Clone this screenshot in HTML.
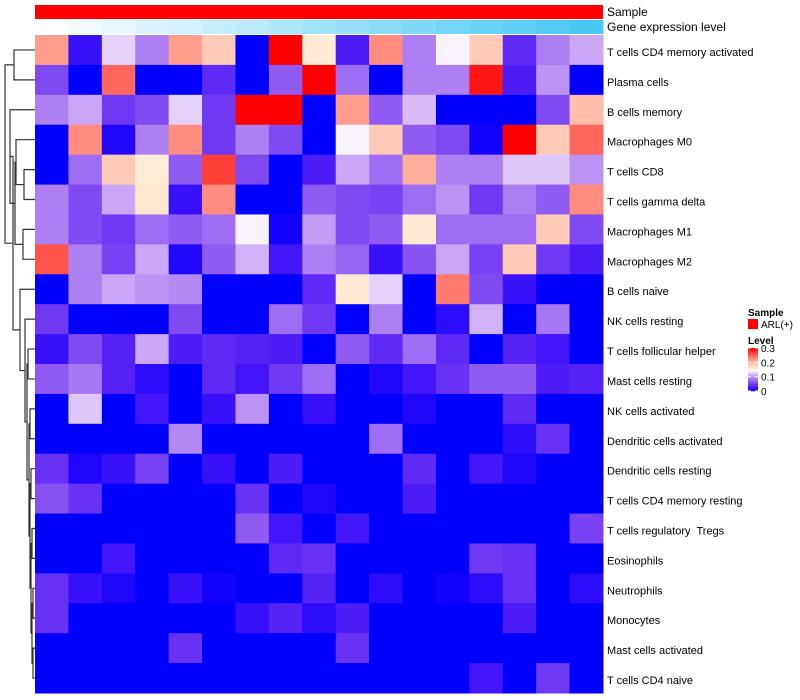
<!DOCTYPE html>
<html><head><meta charset="utf-8"><style>
body{margin:0;background:#fff;}
svg{display:block;font-family:"Liberation Sans",sans-serif;}
text{white-space:pre;}
</style></head><body>
<svg id="chart" width="800" height="700"></svg>
<script>
const rowLabels=["T cells CD4 memory activated","Plasma cells","B cells memory","Macrophages M0","T cells CD8","T cells gamma delta","Macrophages M1","Macrophages M2","B cells naive","NK cells resting","T cells follicular helper","Mast cells resting","NK cells activated","Dendritic cells activated","Dendritic cells resting","T cells CD4 memory resting","T cells regulatory  Tregs","Eosinophils","Neutrophils","Monocytes","Mast cells activated","T cells CD4 naive"];
const r1=[.22,.02,.13,.09,.22,.19,0,.3,.16,.03,.23,.09,.145,.19,.04,.09,.11];
const r2=[.06,0,.25,0,0,.04,0,.07,.3,.08,0,.09,.09,.29,.03,.1,0];
const r3=[.09,.11,.05,.06,.13,.05,.3,.3,0,.22,.07,.12,0,0,0,.06,.2];
const r4=[0,.23,.01,.09,.23,.05,.09,.06,0,.145,.19,.07,.06,.005,.3,.19,.25];
const r5=[0,.08,.19,.155,.07,.27,.06,0,.03,.11,.08,.21,.09,.09,.125,.125,.1];
const r6=[.09,.06,.11,.165,.02,.23,0,0,.07,.06,.055,.08,.1,.05,.09,.07,.23];
const r7=[.09,.06,.05,.08,.07,.08,.145,.005,.105,.06,.07,.16,.08,.08,.08,.19,.06];
const r8=[.26,.09,.055,.11,.01,.07,.115,.025,.09,.075,.02,.065,.11,.055,.19,.05,.03];
const r9=[0,.09,.11,.1,.095,0,0,0,.04,.16,.13,0,.24,.06,.02,0,0];
const r10=[.05,0,0,0,.06,0,0,.08,.05,0,.09,0,.015,.115,0,.085,0];
const r11=[.02,.06,.035,.11,.03,.04,.035,.03,0,.07,.04,.08,.04,0,.035,.025,0];
const r12=[.07,.085,.035,.015,0,.04,.025,.05,.08,0,.01,.025,.045,.07,.07,.03,.035];
const r13=[0,.125,0,.025,0,.02,.1,0,.02,0,0,.01,0,0,.04,0,0];
const r14=[0,0,0,0,.095,0,0,0,0,0,.08,0,0,0,.015,.045,0];
const r15=[.045,.01,.02,.055,0,.02,0,.03,0,0,0,.04,0,.025,.01,0,0];
const r16=[.065,.045,0,0,0,0,.045,0,.01,0,0,.03,0,0,0,0,0];
const r17=[0,0,0,0,0,0,.07,.025,0,.025,0,0,0,0,0,0,.055];
const r18=[0,0,.025,0,0,0,0,.04,.045,0,0,0,0,.05,.045,0,0];
const r19=[.045,.02,.01,0,.02,.005,0,0,.035,0,.015,0,.005,.015,.045,0,.015];
const r20=[.045,0,0,0,0,0,.02,.035,.015,.03,0,0,0,0,.03,0,0];
const r21=[0,0,0,0,.045,0,0,0,0,.045,0,0,0,0,0,0,0];
const r22=[0,0,0,0,0,0,0,0,0,0,0,0,0,.025,0,.05,0];
const values=[r1,r2,r3,r4,r5,r6,r7,r8,r9,r10,r11,r12,r13,r14,r15,r16,r17,r18,r19,r20,r21,r22];
const legendTicks=["0.3","0.2","0.1","0"];
const legendTickValues=[0.3,0.2,0.1,0];

const NS="http://www.w3.org/2000/svg";
const svg=document.getElementById('chart');
function mk(t,a,p){const e=document.createElementNS(NS,t);for(const k in a)e.setAttribute(k,a[k]);(p||svg).appendChild(e);return e;}
const X0=35,X1=603,Y0=35,Y1=693;
const nC=r1.length,nR=values.length;
const cw=(X1-X0)/nC,rh=(Y1-Y0)/nR;
const xS=c=>X0+c*cw, yS=r=>Y0+r*rh;
function color(v){
  v=Math.max(0,Math.min(0.3,v));
  if(v<=0.15){const t=v/0.15;
    const r=255*Math.pow(t,0.75),g=255*Math.pow(t,1.35),b=255-12*Math.sin(Math.PI*t);
    return `rgb(${r|0},${g|0},${b|0})`;}
  const s=(v-0.15)/0.15;
  const gb=240*(1-Math.pow(s,1.4));
  return `rgb(255,${gb|0},${(gb*0.9)|0})`;
}
const sampleG=mk('g',{});


mk('rect',{x:X0,y:5,width:X1-X0,height:14,fill:'#ff0000'},sampleG);
const geneG=mk('g',{});


for(let c=0;c<nC;c++){
  const t=c/(nC-1);
  const r=255-(255-72)*t,g=255-(255-200)*t,b=255-(255-245)*t;
  const e=mk('rect',{x:xS(c),y:20,width:cw+0.5,height:14,fill:`rgb(${r|0},${g|0},${b|0})`},geneG);
  
  
}
const t1=mk('text',{x:607,y:16,'font-size':12,fill:'#000'});t1.textContent='Sample';


const t2=mk('text',{x:607,y:31,'font-size':12,fill:'#000'});t2.textContent='Gene expression level';


const cellsG=mk('g',{});


values.forEach((row,r)=>row.forEach((v,c)=>{
  const e=mk('rect',{x:xS(c),y:yS(r),width:cw+0.5,height:rh+0.5,fill:color(v)},cellsG);
  
  
}));
rowLabels.forEach((l,r)=>{
  const e=mk('text',{x:607,y:yS(r)+rh/2+6,'font-size':11,fill:'#000'});
  e.textContent=l;
  
  
});
const merges=[[0,1,14],[4,5,24],[3,'n1',16],[6,7,23],['n2','n3',15],[2,'n4',10],
 [20,21,33],[18,19,33],['n6','n7',32],[16,17,32],['n9','n8',31],[14,15,31],['n11','n10',30],
 [12,13,30],['n13','n12',29],[10,11,28],['n15','n14',27],[9,'n16',25],[8,'n17',20],
 ['n5','n18',13],['n0','n19',5]];
const dG=mk('g',{stroke:'#333','stroke-width':1.2,fill:'none'});


const nodes=[];
function info(ch){if(typeof ch==='number')return{y:yS(ch)+rh/2,x:X0};return nodes[+ch.slice(1)];}
merges.forEach(m=>{
  const a=info(m[0]),b=info(m[1]),x=m[2];
  mk('path',{d:`M${a.x},${a.y}H${x}V${b.y}H${b.x}`},dG);
  nodes.push({x:x,y:(a.y+b.y)/2});
});
const lg=mk('g',{});


const lt=mk('text',{x:748,y:316,'font-size':10,'font-weight':'bold'},lg);lt.textContent='Sample';
const lr=mk('rect',{x:748,y:319,width:10,height:10,fill:'#ff0000'},lg);


const la=mk('text',{x:761,y:328,'font-size':10},lg);la.textContent='ARL(+)';
const lv=mk('text',{x:748,y:344,'font-size':10,'font-weight':'bold'},lg);lv.textContent='Level';
const barTop=348,barBot=391,bh=barBot-barTop;
for(let i=0;i<40;i++){
  const v=0.3*(1-i/40);
  mk('rect',{x:748,y:barTop+i*bh/40,width:10,height:bh/40+0.3,fill:color(v)},lg);
}
const ly=v=>barBot-v/0.3*bh;
legendTicks.forEach((t,i)=>{
  const y=ly(legendTickValues[i]);
  mk('line',{x1:748,x2:751,y1:y,y2:y,stroke:'#fff'},lg);
  mk('line',{x1:755,x2:758,y1:y,y2:y,stroke:'#fff'},lg);
  const e=mk('text',{x:761,y:y+4,'font-size':10},lg);e.textContent=t;
  
  
});
</script>
</body></html>
